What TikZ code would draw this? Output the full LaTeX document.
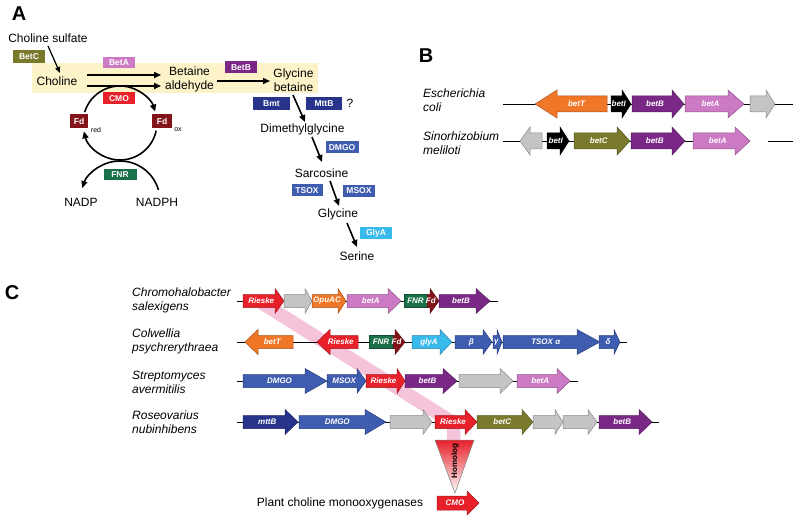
\documentclass[tikz,border=0pt]{standalone}
\usepackage{fontspec}
\setmainfont{Liberation Sans}
\usetikzlibrary{arrows.meta,calc}
\definecolor{cYel}{RGB}{252,244,200}
\definecolor{cOlive}{RGB}{122,122,44}
\definecolor{cPinkG}{RGB}{204,122,196}
\definecolor{cPurp}{RGB}{122,40,134}
\definecolor{cRed}{RGB}{232,32,42}
\definecolor{cFd}{RGB}{130,20,26}
\definecolor{cGreen}{RGB}{26,112,72}
\definecolor{cNavy}{RGB}{40,52,140}
\definecolor{cBlue}{RGB}{62,92,176}
\definecolor{cCyan}{RGB}{56,186,236}
\definecolor{cOrange}{RGB}{240,118,40}
\definecolor{cGray}{RGB}{196,196,196}
\definecolor{cBand}{RGB}{246,196,218}
\newcommand\geneR[7]{%
  \filldraw[genebox, fill=#5, draw=#5!70!black] (#1,#4-\gb) -- (#3,#4-\gb) -- (#3,#4-\gh) -- (#2,#4) -- (#3,#4+\gh) -- (#3,#4+\gb) -- (#1,#4+\gb) -- cycle;
  \node[genelab] (#7) at ({0.5*#1+0.25*#3+0.25*#2},#4) {#6};}
\newcommand\geneL[7]{%
  \filldraw[genebox, fill=#5, draw=#5!70!black] (#2,#4-\gb) -- (#3,#4-\gb) -- (#3,#4-\gh) -- (#1,#4) -- (#3,#4+\gh) -- (#3,#4+\gb) -- (#2,#4+\gb) -- cycle;
  \node[genelab] (#7) at ({0.5*#2+0.25*#3+0.25*#1},#4) {#6};}
\newcommand\geneN[6]{%
  \filldraw[genebox, fill=#4, draw=#4!70!black] (#1,#3-\gb) rectangle (#2,#3+\gb);
  \node[genelab] (#6) at ({0.5*#1+0.5*#2},#3) {#5};}
\begin{document}
\begin{tikzpicture}[x=1pt,y=-1pt,
  met/.style={font=\fontsize{12}{14}\selectfont, inner sep=0pt, align=center},
  enz/.style={fill=#1, text=white, font=\fontsize{8.5}{9}\selectfont\bfseries, inner sep=0pt, minimum width=32pt, minimum height=12pt},
  lettr/.style={font=\fontsize{20}{22}\selectfont\bfseries, inner sep=0pt},
  rxn/.style={line width=1.6pt, -{Triangle[length=7pt,width=6pt]}},
  species/.style={font=\fontsize{12}{14}\selectfont\itshape, align=left, anchor=west, inner sep=0pt},
  genebox/.style={line width=0.5pt},
  genelab/.style={text=white, font=\fontsize{8}{9}\selectfont\bfseries\itshape, inner sep=0pt},
  chrom/.style={line width=0.8pt, black},
  band/.style={line width=13.5pt, draw=cBand, line join=round}]
\useasboundingbox (0,0) rectangle (800,521);
% ---------------- Panel A ----------------
\node[lettr] (lA) at (19,14) {A};
\fill[cYel] (32,63) rectangle (318,93);
\node[met] (cs) at (48,38.5) {Choline sulfate};
\node[enz=cOlive, minimum height=13pt] (betC) at (29,56.5) {BetC};
\node[met] (chol) at (57,81) {Choline};
\node[enz=cPinkG, minimum height=11.5pt] (betA) at (119,62.5) {BetA};
\node[met] (ba) at (189.5,79) {Betaine\\aldehyde};
\node[enz=cPurp] (betB) at (241,67.5) {BetB};
\node[met] (gb) at (293.5,80.5) {Glycine\\betaine};
\node[enz=cRed] (cmo) at (119,98.5) {CMO};
\coordinate (cc) at (120,123);
\coordinate (cn) at (120,201);
\node[enz=cFd, minimum width=18pt, minimum height=14pt] (fdr) at (79,121.5) {Fd};
\node[font=\fontsize{7}{8}\selectfont, inner sep=0pt] (fdrs) at (96,130) {red};
\node[enz=cFd, minimum width=20pt, minimum height=14pt] (fdo) at (162,121.5) {Fd};
\node[font=\fontsize{7}{8}\selectfont, inner sep=0pt] (fdos) at (178,130) {ox};
\node[enz=cGreen, minimum width=33pt, minimum height=10.5pt] (fnr) at (120,174.5) {FNR};
\node[met] (nadp) at (81,202) {NADP};
\node[met] (nadph) at (157,202) {NADPH};
\node[enz=cNavy, minimum width=37pt, minimum height=13pt] (bmt) at (271.5,104) {Bmt};
\node[enz=cNavy, minimum width=36pt, minimum height=13pt] (mttb) at (324,104) {MttB};
\node[met] (qm) at (350,103.5) {?};
\node[met] (dmg) at (302.5,129) {Dimethylglycine};
\node[enz=cBlue, minimum width=33pt] (dmgo) at (342,147.5) {DMGO};
\node[met] (sarc) at (321.5,173) {Sarcosine};
\node[enz=cBlue, minimum width=31pt] (tsox) at (307,190.5) {TSOX};
\node[enz=cBlue] (msox) at (359,191) {MSOX};
\node[met] (gly) at (338,214) {Glycine};
\node[enz=cCyan] (glya) at (376,233.5) {GlyA};
\node[met] (ser) at (357,256) {Serine};
\draw[line width=1.2pt, -{Triangle[length=6pt,width=5pt]}] ([shift={(0,7.5)}]cs.center) -- ([shift={(3,-8)}]chol.center);
\draw[rxn] ([shift={(30,-6)}]chol.center) -- ([shift={(-28.5,-4)}]ba.center);
\draw[rxn] ([shift={(30,5)}]chol.center) -- ([shift={(-28.5,7)}]ba.center);
\draw[rxn] ([shift={(27.5,2)}]ba.center) -- ([shift={(-23.5,0.5)}]gb.center);
\draw[rxn] ([shift={(-0.5,14.5)}]gb.center) -- ([shift={(2.5,-7)}]dmg.center);
\draw[rxn] ([shift={(9.5,8)}]dmg.center) -- ([shift={(0.5,-11)}]sarc.center);
\draw[rxn] ([shift={(8.5,8)}]sarc.center) -- ([shift={(1,-8)}]gly.center);
\draw[rxn] ([shift={(9,9)}]gly.center) -- ([shift={(0,-9)}]ser.center);
\draw[rxn] ($(cc)+(197:37)$) arc[start angle=197, end angle=342, radius=37];
\draw[rxn] ($(cc)+(12:37)$) arc[start angle=12, end angle=167, radius=37];
\draw[rxn] ($(cn)+(344:40)$) arc[start angle=344, end angle=199, radius=40];
% ---------------- Panel B ----------------
\node[lettr] (lB) at (426,56) {B};
\node[species] (eco) at (423,100.5) {Escherichia\\coli};
\node[species] (sme) at (423,143) {Sinorhizobium\\meliloti};
\draw[chrom] (503,104) -- (793,104);
\draw[chrom] (503,141) -- (750,141);
\draw[chrom] (768,141) -- (793,141);
\def\gb{8}\def\gh{14}
\geneL{535}{607}{557}{104}{cOrange}{betT}{b1T}
\geneR{611}{631}{622}{104}{black}{betI}{b1I}
\geneR{632}{684}{672}{104}{cPurp}{betB}{b1B}
\geneR{685}{744}{728}{104}{cPinkG}{betA}{b1A}
\geneR{750}{775}{766}{104}{cGray}{}{b1G}
\geneL{520}{542}{530}{141}{cGray}{}{b2G}
\geneR{547}{569}{560}{141}{black}{betI}{b2I}
\geneR{574}{630}{617}{141}{cOlive}{betC}{b2C}
\geneR{631}{685}{672}{141}{cPurp}{betB}{b2B}
\geneR{693}{750}{735}{141}{cPinkG}{betA}{b2A}
% ---------------- Panel C ----------------
\node[lettr] (lC) at (12,293) {C};
\node[species] (chs) at (132,300.5) {Chromohalobacter\\salexigens};
\node[species] (cps) at (132,341) {Colwellia\\psychrerythraea};
\node[species] (sav) at (132,382) {Streptomyces\\avermitilis};
\node[species] (rnu) at (132,422.5) {Roseovarius\\nubinhibens};
\draw[band] (262,303) -- (453.5,423) -- (453.5,441);
\draw[chrom] (237,301) -- (498,301);
\draw[chrom] (237,342) -- (627,342);
\draw[chrom] (237,381) -- (578,381);
\draw[chrom] (237,422) -- (659,422);
\def\gb{6.5}\def\gh{12.5}
\geneR{243}{284}{275}{301}{cRed}{Rieske}{c1R}
\geneR{284}{312}{305}{301}{cGray}{}{c1G}
\geneR{312}{346}{338}{301}{cOrange}{OpuAC}{c1O}
\geneR{347}{401}{388}{301}{cPinkG}{betA}{c1A}
\geneN{404}{427}{301}{cGreen}{FNR}{c1F}
\geneR{427}{439}{430}{301}{cFd}{Fd}{c1Fd}
\geneR{439}{490}{476}{301}{cPurp}{betB}{c1B}
\geneL{245}{293}{258}{342}{cOrange}{betT}{c2T}
\geneL{317}{358}{330}{342}{cRed}{Rieske}{c2R}
\geneN{369}{393}{342}{cGreen}{FNR}{c2F}
\geneR{393}{405}{395}{342}{cFd}{Fd}{c2Fd}
\geneR{412}{452}{440}{342}{cCyan}{glyA}{c2G}
\geneR{455}{492}{483}{342}{cBlue}{β}{c2b}
\geneR{493}{502}{497}{342}{cBlue}{γ}{c2g}
\geneR{503}{600}{577}{342}{cBlue}{TSOX α}{c2a}
\geneR{599}{620}{614}{342}{cBlue}{δ}{c2d}
\geneR{243}{327}{305}{381}{cBlue}{DMGO}{c3D}
\geneR{327}{366}{357}{381}{cBlue}{MSOX}{c3M}
\geneR{366}{405}{397}{381}{cRed}{Rieske}{c3R}
\geneR{405}{457}{443}{381}{cPurp}{betB}{c3B}
\geneR{459}{513}{500}{381}{cGray}{}{c3G}
\geneR{517}{570}{557}{381}{cPinkG}{betA}{c3A}
\geneR{243}{298}{285}{422}{cNavy}{mttB}{c4m}
\geneR{299}{386}{365}{422}{cBlue}{DMGO}{c4D}
\geneR{390}{432}{423}{422}{cGray}{}{c4G1}
\geneR{435}{477}{465}{422}{cRed}{Rieske}{c4R}
\geneR{477}{533}{522}{422}{cOlive}{betC}{c4C}
\geneR{533}{563}{555}{422}{cGray}{}{c4G2}
\geneR{563}{597}{588}{422}{cGray}{}{c4G3}
\geneR{599}{652}{639}{422}{cPurp}{betB}{c4B}
\shade[top color=cRed, bottom color=white, draw=gray, line width=0.5pt] (435,440) -- (474,440) -- (455,493) -- cycle;
\node[rotate=90, font=\fontsize{8}{9}\selectfont\bfseries, inner sep=0pt] (hom) at (455,461) {Homolog};
\node[met] (pcm) at (340,503) {Plant choline monooxygenases};
\def\gb{7}\def\gh{12}
\geneR{437}{479}{467}{503}{cRed}{CMO}{cmoG}
\end{tikzpicture}
\end{document}
